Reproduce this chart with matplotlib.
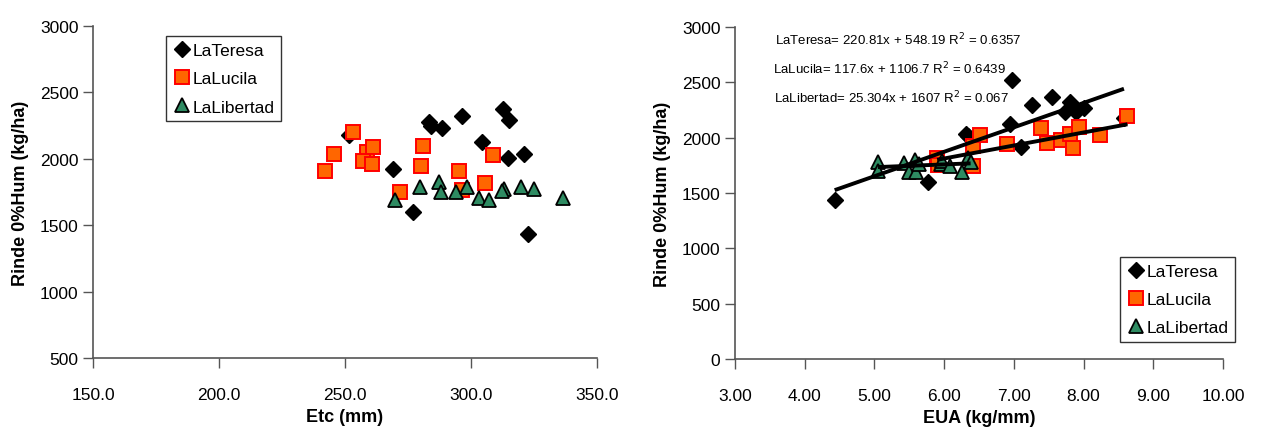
import matplotlib
matplotlib.use("Agg")
import matplotlib.pyplot as plt
import numpy as np

plt.rcParams["font.family"] = ["Liberation Sans", "DejaVu Sans"]

# Rinde vs Etc
etc_teresa = [251.7, 283.4, 284.0, 288.5, 296.5, 312.8, 315.1, 304.2, 314.7, 321.0, 269.2, 276.9, 322.5]
rinde_etc_teresa = [2179, 2279, 2245, 2234, 2324, 2375, 2294, 2124, 2008, 2036, 1920, 1602, 1435]

etc_lucila = [241.9, 245.5, 253.3, 258.6, 257.3, 261.2, 260.7, 271.8, 281.1, 280.3, 295.1, 296.6, 305.4, 308.6]
rinde_etc_lucila = [1910, 2034, 2199, 2049, 1983, 2091, 1961, 1752, 2094, 1946, 1905, 1762, 1818, 2026]

etc_libertad = [269.8, 279.9, 287.4, 288.0, 294.0, 298.5, 303.3, 307.0, 312.9, 312.5, 319.8, 325.1, 336.6]
rinde_etc_libertad = [1690, 1790, 1828, 1752, 1752, 1790, 1702, 1692, 1770, 1755, 1790, 1773, 1702]

# Rinde vs EUA
eua_teresa = [4.43, 5.77, 6.31, 6.34, 6.95, 6.98, 7.11, 7.26, 7.55, 7.73, 7.80, 7.89, 8.01, 8.58]
rinde_eua_teresa = [1435, 1603, 2034, 2013, 2124, 2519, 1916, 2293, 2371, 2230, 2326, 2236, 2272, 2181]

eua_lucila = [5.90, 5.91, 6.41, 6.41, 6.52, 6.90, 7.39, 7.47, 7.67, 7.81, 7.85, 7.94, 8.23, 8.63]
rinde_eua_lucila = [1814, 1757, 1926, 1748, 2025, 1947, 2091, 1955, 1983, 2034, 1905, 2100, 2025, 2197]

eua_libertad = [5.05, 5.05, 5.43, 5.49, 5.58, 5.60, 5.64, 5.95, 5.97, 6.08, 6.26, 6.34, 6.38]
rinde_eua_libertad = [1784, 1700, 1769, 1693, 1796, 1693, 1763, 1760, 1790, 1748, 1693, 1814, 1778]

# trend lines: (slope, intercept, r2)
trend_teresa = (220.81, 548.19, 0.6357)
trend_lucila = (117.6, 1106.7, 0.6439)
trend_libertad = (25.304, 1607, 0.067)

names = ["LaTeresa", "LaLucila", "LaLibertad"]
styles = [
    dict(marker="D", color="black", markerfacecolor="black", markeredgecolor="black", markersize=8.5),
    dict(marker="s", color="#FF6600", markerfacecolor="#FF6600", markeredgecolor="#FF0000", markersize=10, markeredgewidth=1.4),
    dict(marker="^", color="#2E8B62", markerfacecolor="#2E8B62", markeredgecolor="black", markersize=10, markeredgewidth=1.3),
]


def style_axes(ax):
    for side in ["top", "right"]:
        ax.spines[side].set_visible(False)
    for side in ["left", "bottom"]:
        ax.spines[side].set_color("#555555")
        ax.spines[side].set_linewidth(1.2)
    ax.tick_params(axis="both", direction="out", length=7, width=1, colors="#555555",
                   labelcolor="black", labelsize=12.5)
    ax.tick_params(axis="x", pad=14)


fig = plt.figure(figsize=(12.64, 4.35), dpi=100)

# left panel
ax1 = fig.add_axes([0.0736, 0.1747, 0.3987, 0.763])
for x, y, name, st in zip([etc_teresa, etc_lucila, etc_libertad],
                          [rinde_etc_teresa, rinde_etc_lucila, rinde_etc_libertad], names, styles):
    ax1.plot(x, y, linestyle="none", label=name, **st)
ax1.set_xlim(150, 350)
ax1.set_ylim(500, 3000)
ax1.set_xticks([150, 200, 250, 300, 350])
ax1.set_xticklabels(["150.0", "200.0", "250.0", "300.0", "350.0"])
ax1.set_yticks([500, 1000, 1500, 2000, 2500, 3000])
style_axes(ax1)
ax1.set_xlabel("Etc (mm)", fontsize=13, fontweight="bold", labelpad=4)
ax1.set_ylabel("Rinde 0%Hum (kg/ha)", fontsize=13, fontweight="bold", labelpad=8)
leg1 = ax1.legend(loc="upper left", bbox_to_anchor=(0.145, 0.97), fontsize=12.5, frameon=True,
                  fancybox=False, edgecolor="black", handletextpad=0.1, handlelength=1.0,
                  borderpad=0.4, labelspacing=0.75, borderaxespad=0)
leg1.get_frame().set_linewidth(1.0)

# right panel
ax2 = fig.add_axes([0.5815, 0.1724, 0.386, 0.763])
for x, y, name, st in zip([eua_teresa, eua_lucila, eua_libertad],
                          [rinde_eua_teresa, rinde_eua_lucila, rinde_eua_libertad], names, styles):
    ax2.plot(x, y, linestyle="none", label=name, **st)
for x, (m, b, r2) in zip([eua_teresa, eua_lucila, eua_libertad],
                         [trend_teresa, trend_lucila, trend_libertad]):
    xs = np.array([min(x), max(x)])
    ax2.plot(xs, m * xs + b, color="black", linewidth=2.8, solid_capstyle="butt", zorder=3)

ax2.text(0.082, 0.964, "LaTeresa= 220.81x + 548.19 R$^2$ = 0.6357", transform=ax2.transAxes,
         fontsize=9.5, va="center")
ax2.text(0.078, 0.878, "LaLucila= 117.6x + 1106.7 R$^2$ = 0.6439", transform=ax2.transAxes,
         fontsize=9.5, va="center")
ax2.text(0.080, 0.790, "LaLibertad= 25.304x + 1607 R$^2$ = 0.067", transform=ax2.transAxes,
         fontsize=9.5, va="center")

ax2.set_xlim(3, 10)
ax2.set_ylim(0, 3000)
ax2.set_xticks(np.arange(3, 11, 1))
ax2.set_xticklabels(["%.2f" % v for v in np.arange(3, 11, 1)])
ax2.set_yticks(np.arange(0, 3001, 500))
style_axes(ax2)
ax2.set_xlabel("EUA (kg/mm)", fontsize=13, fontweight="bold", labelpad=4)
ax2.set_ylabel("Rinde 0%Hum (kg/ha)", fontsize=13, fontweight="bold", labelpad=8)
leg2 = ax2.legend(loc="lower right", bbox_to_anchor=(1.025, 0.05), fontsize=12.5, frameon=True,
                  fancybox=False, edgecolor="black", handletextpad=0.1, handlelength=1.0,
                  borderpad=0.4, labelspacing=0.75, borderaxespad=0)
leg2.get_frame().set_linewidth(1.0)

fig.savefig("out.png", dpi=100)
